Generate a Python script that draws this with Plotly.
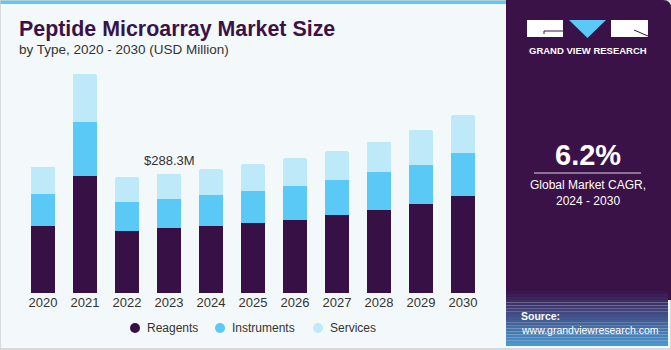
import plotly.graph_objects as go

years = ["2020", "2021", "2022", "2023", "2024", "2025", "2026", "2027", "2028", "2029", "2030"]
reagents = [162.7, 282.8, 149.9, 157.1, 162.7, 169.2, 176.4, 187.8, 199.9, 214.4, 233.7]
instruments = [76.6, 131.2, 69.4, 70.1, 74.2, 78.1, 82.2, 85.3, 91.8, 95.0, 103.9]
services = [66.0, 115.3, 60.4, 61.2, 62.8, 64.5, 67.7, 69.4, 74.0, 84.6, 91.8]
series_names = ["Reagents", "Instruments", "Services"]
colors = ["#371146", "#5bc9f6", "#bde9f9"]
label_year = "2023"
label_text = "$288.3M"

W, H = 671, 350
BG = "#f3f8fb"
PANEL = "#3a1248"
TXT = "#333333"

fig = go.Figure()
for name, vals, c in zip(series_names, [reagents, instruments, services], colors):
    fig.add_trace(go.Bar(x=years, y=vals, name=name, marker=dict(color=c, line=dict(width=0)),
                         showlegend=False))

idx = years.index(label_year)
total = reagents[idx] + instruments[idx] + services[idx]
fig.add_annotation(x=idx, y=total, text=label_text, showarrow=False, yanchor="bottom",
                   yshift=4, font=dict(size=13, color=TXT, family="Liberation Sans"))

def px_x(v):
    return v / W

def px_y(v):
    return 1 - v / H

shapes = []
shapes.append(dict(type="rect", xref="paper", yref="paper", x0=0, x1=px_x(507), y0=px_y(4), y1=1,
                   fillcolor="#5bc9f6", line=dict(width=0), layer="below"))
shapes.append(dict(type="rect", xref="paper", yref="paper", x0=0, x1=1, y0=px_y(349), y1=1,
                   fillcolor="rgba(0,0,0,0)", line=dict(width=1.5, color="#cfcfcf"), layer="below"))
r = 8
x0p, x1p, y0p, y1p = 506, 671, 0, 300
path = (f"M {px_x(x0p)} {px_y(y1p)} L {px_x(x0p)} {px_y(y0p)} L {px_x(x1p - r)} {px_y(y0p)} "
        f"Q {px_x(x1p)} {px_y(y0p)} {px_x(x1p)} {px_y(y0p + r)} L {px_x(x1p)} {px_y(y1p)} Z")
shapes.append(dict(type="path", xref="paper", yref="paper", path=path, fillcolor=PANEL,
                   line=dict(width=0), layer="below"))
n = 20
top, bot = 288, 346
c0 = (58, 18, 72)
c1 = (75, 150, 205)
for i in range(n):
    t = i / (n - 1)
    col = tuple(int(c0[k] + (c1[k] - c0[k]) * t) for k in range(3))
    ya = top + (bot - top) * i / n
    yb = top + (bot - top) * (i + 1) / n
    shapes.append(dict(type="rect", xref="paper", yref="paper", x0=px_x(506), x1=px_x(668),
                       y0=px_y(yb), y1=px_y(ya), fillcolor=f"rgb{col}", line=dict(width=0),
                       layer="below"))
shapes.append(dict(type="rect", xref="paper", yref="paper", x0=px_x(527), x1=px_x(563),
                   y0=px_y(37), y1=px_y(20), fillcolor="white", line=dict(width=0)))
shapes.append(dict(type="rect", xref="paper", yref="paper", x0=px_x(611), x1=px_x(648),
                   y0=px_y(37), y1=px_y(20), fillcolor="white", line=dict(width=0)))
tri = f"M {px_x(569)} {px_y(20)} L {px_x(606)} {px_y(20)} L {px_x(587.5)} {px_y(38)} Z"
shapes.append(dict(type="path", xref="paper", yref="paper", path=tri, fillcolor="#5bc9f6",
                   line=dict(width=0)))
shapes.append(dict(type="line", xref="paper", yref="paper", x0=px_x(544), x1=px_x(563),
                   y0=px_y(31), y1=px_y(31), line=dict(color=PANEL, width=1)))
shapes.append(dict(type="line", xref="paper", yref="paper", x0=px_x(544), x1=px_x(544),
                   y0=px_y(31), y1=px_y(34), line=dict(color=PANEL, width=1)))
shapes.append(dict(type="line", xref="paper", yref="paper", x0=px_x(634), x1=px_x(648),
                   y0=px_y(30), y1=px_y(36), line=dict(color=PANEL, width=1)))
shapes.append(dict(type="line", xref="paper", yref="paper", x0=px_x(534), x1=px_x(641),
                   y0=px_y(173), y1=px_y(173), line=dict(color="#d9d2de", width=1.2)))

leg_x = [135, 220, 318]
leg_y = 328
for lx, name, c in zip(leg_x, series_names, colors):
    shapes.append(dict(type="circle", xref="paper", yref="paper", x0=px_x(lx - 5), x1=px_x(lx + 5),
                       y0=px_y(leg_y + 5), y1=px_y(leg_y - 5), fillcolor=c, line=dict(width=0)))
    fig.add_annotation(xref="paper", yref="paper", x=px_x(lx + 10), y=px_y(leg_y), text=name,
                       showarrow=False, xanchor="left", yanchor="middle",
                       font=dict(size=12, color=TXT, family="Liberation Sans"))

fig.update_layout(shapes=shapes)

def ann(text, x, y, size, color="white", bold=False, xanchor="center", family="Liberation Sans"):
    fig.add_annotation(xref="paper", yref="paper", x=px_x(x), y=px_y(y), text=text,
                       showarrow=False, xanchor=xanchor, yanchor="middle",
                       font=dict(size=size, color=color, family=family,
                                 weight="bold" if bold else "normal"))

fig.add_annotation(xref="paper", yref="paper", x=px_x(17), y=px_y(29),
                   text="Peptide Microarray Market Size", showarrow=False, xanchor="left",
                   yanchor="middle", font=dict(size=21.4, color="#3a1248", family="Liberation Sans",
                                               weight="bold"))
ann("by Type, 2020 - 2030 (USD Million)", 17, 50, 13.5, color=TXT, xanchor="left")
ann("GRAND VIEW RESEARCH", 587.5, 51, 9.5, bold=True)
ann("6.2%", 587.5, 155, 29, bold=True)
ann("Global Market CAGR,", 587.5, 185, 12)
ann("2024 - 2030", 587.5, 201, 12)
ann("Source:", 519, 316, 10.5, bold=True, xanchor="left")
ann("www.grandviewresearch.com", 519, 330, 10.5, xanchor="left")

fig.update_layout(
    width=W, height=H,
    margin=dict(l=0, r=0, t=0, b=0),
    paper_bgcolor=BG, plot_bgcolor=BG,
    showlegend=False,
    barmode="stack", bargap=0.43, barcornerradius=2,
    xaxis=dict(type="category", range=[-0.5, len(years) - 0.5], domain=[px_x(22), px_x(484)],
               showgrid=False, zeroline=False, showline=False, ticks="",
               tickfont=dict(size=13, color=TXT, family="Liberation Sans"), fixedrange=True),
    yaxis=dict(domain=[px_y(293), px_y(60)], range=[0, 563], visible=False, fixedrange=True),
    font=dict(family="Liberation Sans"),
)

fig.write_html("out.html")
